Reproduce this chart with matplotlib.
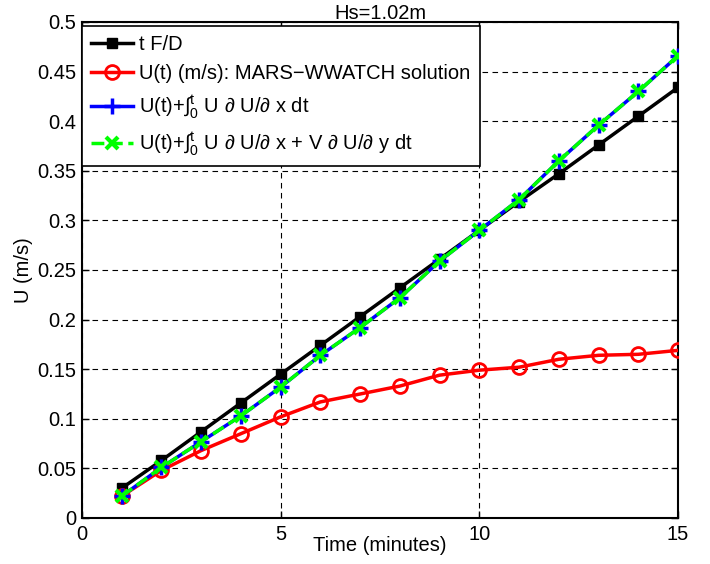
import matplotlib
matplotlib.use("Agg")
import matplotlib.pyplot as plt

plt.rcParams['font.family'] = ['Liberation Sans', 'DejaVu Sans']
plt.rcParams['mathtext.default'] = 'regular'
plt.rcParams['mathtext.fontset'] = 'custom'
plt.rcParams['mathtext.rm'] = 'Liberation Sans'
plt.rcParams['mathtext.it'] = 'Liberation Sans:italic'

time_min = [1, 2, 3, 4, 5, 6, 7, 8, 9, 10, 11, 12, 13, 14, 15]
u_fd = [0.030, 0.058, 0.087, 0.116, 0.145, 0.174, 0.203, 0.232, 0.261,
        0.290, 0.319, 0.347, 0.376, 0.405, 0.434]
u_mars = [0.022, 0.048, 0.068, 0.085, 0.102, 0.117, 0.125, 0.133, 0.144,
          0.149, 0.152, 0.160, 0.164, 0.165, 0.169]
u_adv_x = [0.022, 0.051, 0.077, 0.103, 0.132, 0.164, 0.192, 0.222, 0.259,
           0.290, 0.321, 0.360, 0.396, 0.430, 0.466]
u_adv_xy = [0.022, 0.051, 0.077, 0.103, 0.132, 0.164, 0.192, 0.222, 0.259,
            0.290, 0.321, 0.360, 0.396, 0.430, 0.466]

labels = ['t F/D',
          'U(t) (m/s): MARS\u2212WWATCH solution',
          'U(t)+\u222b$_0^t$ U \u2202 U/\u2202 x dt',
          'U(t)+\u222b$_0^t$ U \u2202 U/\u2202 x + V \u2202 U/\u2202 y dt']
title = 'Hs=1.02m'
xlabel = 'Time (minutes)'
ylabel = 'U (m/s)'
xticks = [0, 5, 10, 15]
yticks = [0, 0.05, 0.1, 0.15, 0.2, 0.25, 0.3, 0.35, 0.4, 0.45, 0.5]

FS = 14.5

fig = plt.figure(figsize=(7.1, 5.64), dpi=100)
ax = fig.add_axes([0.1155, 0.0816, 0.8395, 0.8794])

ax.plot(time_min, u_fd, color='k', lw=2.5, marker='s', ms=7, mfc='k', mec='k',
        label=labels[0], zorder=3)
ax.plot(time_min, u_mars, color='#ff0000', lw=2.5, marker='o', ms=10, mfc='none',
        mec='#ff0000', mew=2, label=labels[1], zorder=3)
ax.plot(time_min, u_adv_x, color='#0000ff', lw=2.5, marker='+', ms=11, mew=2.5,
        label=labels[2], zorder=4)
ax.plot(time_min, u_adv_xy, color='#00ff00', lw=2.5, ls='--', marker='x', ms=8, mew=3,
        label=labels[3], zorder=5)

ax.set_xlim(0, 15)
ax.set_ylim(0, 0.5)
ax.set_xticks(xticks)
ax.set_yticks(yticks)
ax.set_xticklabels([str(v) for v in xticks])
ax.set_yticklabels(['0', '0.05', '0.1', '0.15', '0.2', '0.25', '0.3', '0.35',
                    '0.4', '0.45', '0.5'])
ax.tick_params(direction='in', length=5, width=1, labelsize=FS, top=True, right=True)
ax.tick_params(axis='x', pad=5)
ax.tick_params(axis='y', pad=4)
ax.grid(True, color='k', lw=0.8, ls=(0, (5, 4)))
for s in ax.spines.values():
    s.set_linewidth(1.5)

ax.set_title(title, fontsize=FS, pad=2)
ax.set_xlabel(xlabel, fontsize=FS)
ax.xaxis.set_label_coords(0.5, -0.036)
ax.set_ylabel(ylabel, fontsize=FS)
ax.yaxis.set_label_coords(-0.082, 0.5)

leg = ax.legend(loc='upper left', bbox_to_anchor=(0.0, 0.992), borderaxespad=0,
                fontsize=FS, fancybox=False, framealpha=1, edgecolor='k',
                handlelength=2.1, handletextpad=0.3, borderpad=0.45, labelspacing=0.5)
leg.get_frame().set_linewidth(1.2)
leg.set_zorder(10)

fig.savefig('out.png', dpi=100)
